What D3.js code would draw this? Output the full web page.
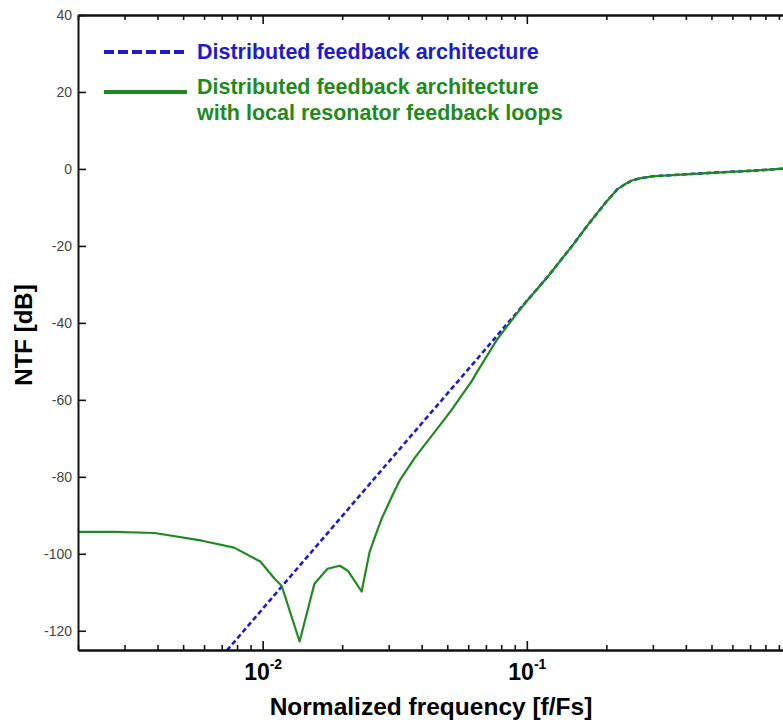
<!DOCTYPE html>
<html>
<head>
<meta charset="utf-8">
<script src="https://cdn.jsdelivr.net/npm/d3@7"></script>
<style>
  body { margin: 0; background: #fff; }
  svg { display: block; font-family: "Liberation Sans", Arial, sans-serif; }
</style>
</head>
<body>
<div id="chart"></div>
<script>
const svgWidth = 783;
const svgHeight = 724;

// plot frame (the right edge falls just outside the window)
const plot = { left: 78, right: 791, top: 15, bottom: 650 };

// distributed feedback architecture (blue, dashed)
const blueFreq = [0.007, 0.01, 0.02, 0.03, 0.05, 0.07, 0.1, 0.12, 0.15, 0.17, 0.2, 0.22, 0.235, 0.25, 0.27, 0.3, 0.4, 0.5, 0.7, 1.0];
const blueNtf  = [-126.7, -114.3, -90.2, -76.1, -58.4, -46.7, -34.3, -28.0, -19.6, -14.6, -8.5, -5.3, -4.0, -3.0, -2.4, -1.9, -1.4, -1.0, -0.5, 0.2];

// with local resonator feedback loops (green, solid)
const greenFreq = [0.002, 0.00275, 0.0039, 0.0059, 0.0078, 0.0098, 0.0111, 0.0118, 0.0138, 0.0157, 0.0176, 0.0196, 0.021, 0.0237,
                   0.0254, 0.0268, 0.0282, 0.0311, 0.0330, 0.0351, 0.0377, 0.0403, 0.0437, 0.0481, 0.0519, 0.0573, 0.0618, 0.065, 0.077, 0.0886,
                   0.1, 0.12, 0.15, 0.17, 0.2, 0.22, 0.235, 0.25, 0.27, 0.3, 0.4, 0.5, 0.7, 1.0];
const greenNtf  = [-94.3, -94.3, -94.6, -96.6, -98.4, -102.0, -106.5, -108.3, -122.8, -107.8, -103.9, -103.1, -104.4, -109.8,
                   -99.5, -95.0, -90.9, -84.6, -81.0, -78.2, -75.0, -72.4, -69.3, -65.6, -62.6, -58.4, -55.2, -52.6, -44.4, -38.9,
                   -34.3, -28.0, -19.6, -14.6, -8.5, -5.3, -4.0, -3.0, -2.4, -1.9, -1.4, -1.0, -0.5, 0.2];

const yTicks = [40, 20, 0, -20, -40, -60, -80, -100, -120];
const xMajor = [0.01, 0.1, 1];
const xMajorLabels = { 0.01: ["10", "-2"], 0.1: ["10", "-1"] };
const xMinor = [];
[0.001, 0.01, 0.1].forEach(dec => { for (let k = 2; k <= 9; k++) xMinor.push(k * dec); });

const legendLabels = [
  ["Distributed feedback architecture"],
  ["Distributed feedback architecture", "with local resonator feedback loops"]
];

const blueColor = "#1d1dc8";
const greenColor = "#1f8a22";

document.addEventListener('DOMContentLoaded', function () {
  const svg = d3.select('#chart')
    .append('svg')
    .attr('width', svgWidth)
    .attr('height', svgHeight);

  const xScale = d3.scaleLog()
    .domain([0.002, 1])
    .range([plot.left, plot.right]);

  const yScale = d3.scaleLinear()
    .domain([-125, 40])
    .range([plot.bottom, plot.top]);

  svg.append("clipPath").attr("id", "plotClip")
    .append("rect")
    .attr("x", plot.left).attr("y", plot.top)
    .attr("width", plot.right - plot.left).attr("height", plot.bottom - plot.top);

  // curves
  const line = d3.line()
    .x(d => xScale(d[0]))
    .y(d => yScale(d[1]));

  const curves = svg.append("g").attr("clip-path", "url(#plotClip)");

  curves.append("path")
    .datum(d3.zip(blueFreq, blueNtf))
    .attr("d", line)
    .attr("fill", "none")
    .attr("stroke", blueColor)
    .attr("stroke-width", 2.6)
    .style("stroke-dasharray", "5,3");

  curves.append("path")
    .datum(d3.zip(greenFreq, greenNtf))
    .attr("d", line)
    .attr("fill", "none")
    .attr("stroke", greenColor)
    .attr("stroke-width", 2.2)
    .attr("stroke-linejoin", "round");

  // axes: minor ticks, major ticks, on all four sides, pointing inward
  function styleAxis(g) {
    g.select(".domain").attr("stroke", "#111").attr("stroke-width", 2);
    g.selectAll(".tick line").attr("stroke", "#111").attr("stroke-width", 1.6);
  }

  svg.append("g")
    .attr("transform", `translate(0, ${plot.bottom})`)
    .call(d3.axisBottom(xScale).tickValues(xMinor).tickSize(-5).tickSizeOuter(0).tickFormat(""))
    .call(styleAxis);

  const bottomMajor = svg.append("g")
    .attr("transform", `translate(0, ${plot.bottom})`)
    .call(d3.axisBottom(xScale).tickValues(xMajor).tickSize(-9).tickSizeOuter(0))
    .call(styleAxis);

  bottomMajor.selectAll(".tick text")
    .each(function (d) {
      const t = d3.select(this).text(null);
      const lab = xMajorLabels[d];
      if (!lab) return;
      t.attr("fill", "#000")
        .style("font-size", "23px")
        .style("font-weight", "bold")
        .attr("y", 30)
        .attr("dy", 0)
        .attr("text-anchor", "middle");
      t.append("tspan").text(lab[0]);
      t.append("tspan").text(lab[1])
        .attr("dy", -11)
        .style("font-size", "14px");
    });

  svg.append("g")
    .attr("transform", `translate(0, ${plot.top})`)
    .call(d3.axisTop(xScale).tickValues(xMinor).tickSize(-5).tickSizeOuter(0).tickFormat(""))
    .call(styleAxis);

  svg.append("g")
    .attr("transform", `translate(0, ${plot.top})`)
    .call(d3.axisTop(xScale).tickValues(xMajor).tickSize(-9).tickSizeOuter(0).tickFormat(""))
    .call(styleAxis);

  svg.append("g")
    .attr("transform", `translate(${plot.left}, 0)`)
    .call(d3.axisLeft(yScale).tickValues(yTicks).tickSize(-8).tickSizeOuter(0).tickPadding(6)
      .tickFormat(d => String(d)))
    .call(styleAxis)
    .selectAll(".tick text")
    .attr("fill", "#444")
    .style("font-size", "14px");

  svg.append("g")
    .attr("transform", `translate(${plot.right}, 0)`)
    .call(d3.axisRight(yScale).tickValues(yTicks).tickSize(-8).tickSizeOuter(0).tickFormat(""))
    .call(styleAxis);

  // axis titles
  svg.append("text")
    .attr("x", 431)
    .attr("y", 715)
    .attr("text-anchor", "middle")
    .style("font-size", "24.5px")
    .style("font-weight", "bold")
    .text("Normalized frequency [f/Fs]");

  svg.append("text")
    .attr("transform", `translate(32, 335) rotate(-90)`)
    .attr("text-anchor", "middle")
    .style("font-size", "24px")
    .style("font-weight", "bold")
    .text("NTF [dB]");

  // legend
  const legend = svg.append("g");
  const legendRows = [
    { y: 52, color: blueColor, dash: "10,4", lines: legendLabels[0], textY: [59] },
    { y: 92, color: greenColor, dash: null, lines: legendLabels[1], textY: [94, 120] }
  ];

  legendRows.forEach(row => {
    legend.append("line")
      .attr("x1", 104).attr("x2", 187)
      .attr("y1", row.y).attr("y2", row.y)
      .attr("stroke", row.color)
      .attr("stroke-width", 4)
      .style("stroke-dasharray", row.dash);

    row.lines.forEach((txt, i) => {
      legend.append("text")
        .attr("x", 197)
        .attr("y", row.textY[i])
        .attr("fill", row.color)
        .style("font-size", "21.5px")
        .style("font-weight", "bold")
        .text(txt);
    });
  });
});
</script>
</body>
</html>
